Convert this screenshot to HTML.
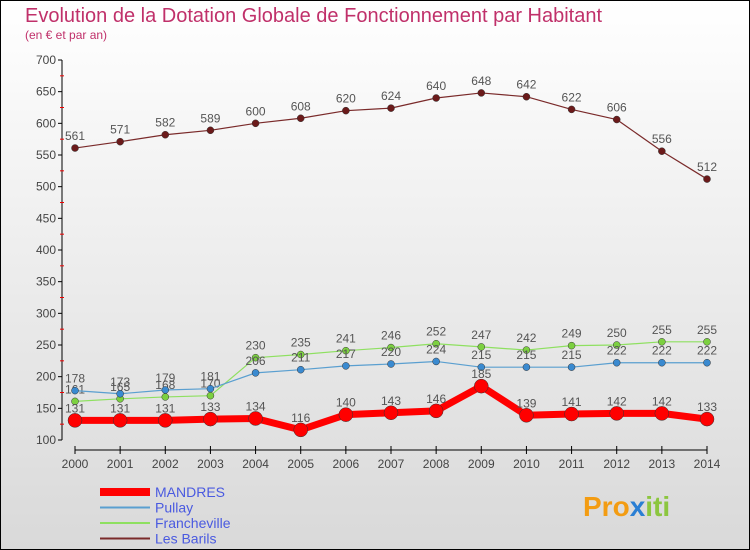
<!DOCTYPE html>
<html><head><meta charset="utf-8"><style>
body{margin:0;width:750px;height:550px;overflow:hidden;font-family:"Liberation Sans",sans-serif}
#wrap{position:absolute;left:0;top:0;width:748px;height:548px;border:1px solid #000;background:linear-gradient(#fff,#d9d9d9)}
</style></head><body>
<div id="wrap">
<svg id="chart" width="750" height="550" style="position:absolute;left:-1px;top:-1px">
<text x="25" y="22" font-size="20" fill="#c0306a">Evolution de la Dotation Globale de Fonctionnement par Habitant</text>
<text x="25" y="39" font-size="12" fill="#c0306a">(en € et par an)</text>
<g id="axes"></g><g id="series"></g>
<g id="legend"></g>
<text x="583" y="516" font-size="28" font-weight="bold" fill="#f39c12">Pro<tspan fill="#2a7fd4">x</tspan><tspan fill="#8cc63f">iti</tspan></text>
</svg></div>
<script>
const years=[2000,2001,2002,2003,2004,2005,2006,2007,2008,2009,2010,2011,2012,2013,2014];
const mandres=[131,131,131,133,134,116,140,143,146,185,139,141,142,142,133];
const pullay=[178,173,179,181,206,211,217,220,224,215,215,215,222,222,222];
const francheville=[161,165,168,170,230,235,241,246,252,247,242,249,250,255,255];
const lesBarils=[561,571,582,589,600,608,620,624,640,648,642,622,606,556,512];
const yTicks=[100,150,200,250,300,350,400,450,500,550,600,650,700];
const NS="http://www.w3.org/2000/svg";
const X=i=>75+i*(632/14), Y=v=>440-(v-100)*(380/600);
function mk(p,t,a){const e=document.createElementNS(NS,t);for(const k in a)e.setAttribute(k,a[k]);p.appendChild(e);return e;}
const ax=document.getElementById('axes');
let l=mk(ax,'line',{x1:62,y1:60,x2:62,y2:440,stroke:'#000'});

for(let v=125;v<700;v+=50){mk(ax,'line',{x1:60,x2:64,y1:Y(v),y2:Y(v),stroke:'#e00'});}
yTicks.forEach(v=>{mk(ax,'line',{x1:58,x2:62,y1:Y(v),y2:Y(v),stroke:'#000'});
const t=mk(ax,'text',{x:56,y:Y(v)+4,'text-anchor':'end','font-size':12,fill:'#444'});t.textContent=v;
});
l=mk(ax,'line',{x1:75,y1:450,x2:707,y2:450,stroke:'#000'});

years.forEach((y,i)=>{mk(ax,'line',{x1:X(i),x2:X(i),y1:446,y2:454,stroke:'#000'});
const t=mk(ax,'text',{x:X(i),y:468,'text-anchor':'middle','font-size':12,fill:'#444'});t.textContent=y;
});
const sg=document.getElementById('series');
function series(name,data,col,w,r,dot){
const g=mk(sg,'g',{});

mk(g,'polyline',{points:data.map((v,i)=>X(i)+','+Y(v)).join(' '),fill:'none',stroke:col,'stroke-width':w,'stroke-linejoin':'round'});
data.forEach((v,i)=>{const c=mk(g,'circle',{cx:X(i),cy:Y(v),r:r,fill:dot,stroke:'#333','stroke-width':0.5});

const t=mk(g,'text',{x:X(i),y:Y(v)-8,'text-anchor':'middle','font-size':12,fill:'#555'});t.textContent=v;
});
}
series('les-barils',lesBarils,'#7a2a2a',1.2,3.5,'#6b1a1a');
series('francheville',francheville,'#8ee060',1.2,3.5,'#7cd040');
series('pullay',pullay,'#5a9fd0',1.2,3.5,'#3a8ad0');
series('mandres',mandres,'#f00',7,7,'#f00');
const lg=document.getElementById('legend');
[['MANDRES','#f00',8],['Pullay','#5a9fd0',2],['Francheville','#8ee060',2],['Les Barils','#7a2a2a',2]].forEach((d,i)=>{
const y=492+i*15.5;
const g=mk(lg,'g',{});
mk(g,'line',{x1:100,x2:150,y1:y,y2:y,stroke:d[1],'stroke-width':d[2]});
const t=mk(g,'text',{x:155,y:y+5,'font-size':14,fill:'#4a5ae0'});t.textContent=d[0];});
</script>
</body></html>
